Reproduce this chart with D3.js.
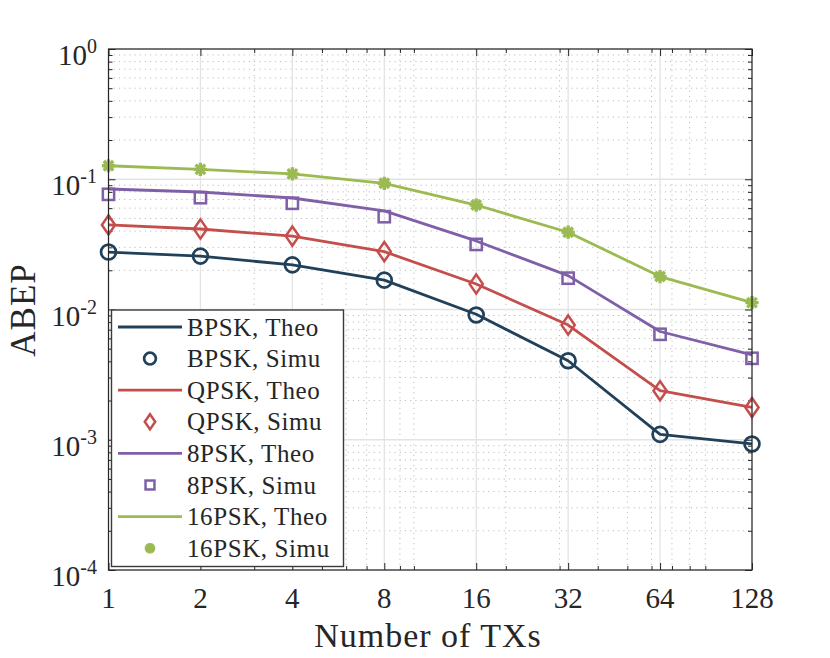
<!DOCTYPE html>
<html>
<head>
<meta charset="utf-8">
<script src="https://cdn.jsdelivr.net/npm/d3@7"></script>
<style>
  body { margin: 0; background: #fff; }
  svg { display: block; }
  text { font-family: "Liberation Serif", "DejaVu Serif", serif; fill: #262626; }
</style>
</head>
<body>
<div id="chart-area"></div>
<script>
// number of transmit antennas (x categories)
const txs = [1, 2, 4, 8, 16, 32, 64, 128];

// theoretical curves
const bpskTheo = [0.0276, 0.0257, 0.0220, 0.0168, 0.0092, 0.00404, 0.00110, 0.000928];
const qpskTheo = [0.0446, 0.0415, 0.0366, 0.0278, 0.0157, 0.0076, 0.00238, 0.00177];
const psk8Theo = [0.0842, 0.0798, 0.0718, 0.0571, 0.0336, 0.0182, 0.00678, 0.00448];
const psk16Theo = [0.127, 0.119, 0.110, 0.0931, 0.0634, 0.0392, 0.0179, 0.0113];

// simulated points
const bpskSimu = [0.0276, 0.0257, 0.0220, 0.0168, 0.00907, 0.00404, 0.00110, 0.000928];
const qpskSimu = [0.0446, 0.0415, 0.0366, 0.0278, 0.0157, 0.0076, 0.00238, 0.00177];
const psk8Simu = [0.0766, 0.0722, 0.0654, 0.0516, 0.0316, 0.0174, 0.00645, 0.00422];
const psk16Simu = [0.127, 0.119, 0.110, 0.0931, 0.0634, 0.0392, 0.0179, 0.0113];

const yTicks = [1e-4, 1e-3, 1e-2, 1e-1, 1];
const yTickExp = ["-4", "-3", "-2", "-1", "0"];

const series = [
  { name: "BPSK", color: "#21405a", marker: "circle", theo: bpskTheo, simu: bpskSimu },
  { name: "QPSK", color: "#c44e4b", marker: "diamond", theo: qpskTheo, simu: qpskSimu },
  { name: "8PSK", color: "#7f60a8", marker: "square", theo: psk8Theo, simu: psk8Simu },
  { name: "16PSK", color: "#9bbb52", marker: "star", theo: psk16Theo, simu: psk16Simu }
];

const W = 830, H = 658;
const m = { left: 108.5, right: 752, top: 49, bottom: 570 };

const svg = d3.select("#chart-area").append("svg")
  .attr("width", W)
  .attr("height", H);

const x = d3.scaleLog().base(2).domain([1, 128]).range([m.left, m.right]);
const y = d3.scaleLog().domain([1e-4, 1]).range([m.bottom, m.top]);

// minor values
const xMinor = [];
for (let k = 0; k <= 2; k++) for (let j = 2; j <= 9; j++) {
  const v = j * Math.pow(10, k);
  if (v < 128 && !txs.includes(v)) xMinor.push(v);
}
xMinor.push(10);
const yMinor = [];
for (let k = -4; k < 0; k++) for (let j = 2; j <= 9; j++) yMinor.push(j * Math.pow(10, k));

svg.append("rect")
  .attr("x", m.left).attr("y", m.top)
  .attr("width", m.right - m.left).attr("height", m.bottom - m.top)
  .attr("fill", "#fff");

// grid
const grid = svg.append("g");
grid.selectAll(".xminor").data(xMinor).enter().append("line")
  .attr("x1", d => x(d)).attr("x2", d => x(d))
  .attr("y1", m.top).attr("y2", m.bottom)
  .attr("stroke", "#bdbdbd").attr("stroke-width", 1)
  .attr("stroke-dasharray", "1.2,4");
grid.selectAll(".yminor").data(yMinor).enter().append("line")
  .attr("x1", m.left).attr("x2", m.right)
  .attr("y1", d => y(d)).attr("y2", d => y(d))
  .attr("stroke", "#bdbdbd").attr("stroke-width", 1)
  .attr("stroke-dasharray", "1.2,4");
grid.selectAll(".xmajor").data(txs).enter().append("line")
  .attr("x1", d => x(d)).attr("x2", d => x(d))
  .attr("y1", m.top).attr("y2", m.bottom)
  .attr("stroke", "#e3e3e3").attr("stroke-width", 1.3);
grid.selectAll(".ymajor").data(yTicks).enter().append("line")
  .attr("x1", m.left).attr("x2", m.right)
  .attr("y1", d => y(d)).attr("y2", d => y(d))
  .attr("stroke", "#e3e3e3").attr("stroke-width", 1.3);

// axes (ticks pointing inward)
function styleAxis(g) {
  g.selectAll(".domain").remove();
  g.selectAll("line").attr("stroke", "#262626").attr("stroke-width", 1);
  g.selectAll("text").remove();
}
svg.append("g").attr("transform", `translate(0,${m.bottom})`)
  .call(d3.axisBottom(x).tickValues(txs).tickSize(-7)).call(styleAxis);
svg.append("g").attr("transform", `translate(0,${m.bottom})`)
  .call(d3.axisBottom(x).tickValues(xMinor).tickSize(-4)).call(styleAxis);
svg.append("g").attr("transform", `translate(0,${m.top})`)
  .call(d3.axisTop(x).tickValues(txs).tickSize(-7)).call(styleAxis);
svg.append("g").attr("transform", `translate(0,${m.top})`)
  .call(d3.axisTop(x).tickValues(xMinor).tickSize(-4)).call(styleAxis);
svg.append("g").attr("transform", `translate(${m.left},0)`)
  .call(d3.axisLeft(y).tickValues(yTicks).tickSize(-7)).call(styleAxis);
svg.append("g").attr("transform", `translate(${m.left},0)`)
  .call(d3.axisLeft(y).tickValues(yMinor).tickSize(-4)).call(styleAxis);
svg.append("g").attr("transform", `translate(${m.right},0)`)
  .call(d3.axisRight(y).tickValues(yTicks).tickSize(-7)).call(styleAxis);
svg.append("g").attr("transform", `translate(${m.right},0)`)
  .call(d3.axisRight(y).tickValues(yMinor).tickSize(-4)).call(styleAxis);

// tick labels
svg.append("g").selectAll("text").data(txs).enter().append("text")
  .attr("x", d => x(d)).attr("y", 608)
  .attr("text-anchor", "middle")
  .attr("font-size", "29px")
  .text(d => d);

const yl = svg.append("g").selectAll("text").data(yTicks).enter().append("text")
  .attr("x", 97).attr("y", d => y(d) + 16)
  .attr("text-anchor", "end")
  .attr("font-size", "29px");
yl.append("tspan").text("10");
yl.append("tspan").attr("dy", -12).attr("font-size", "20px").text((d, i) => yTickExp[i]);

// axis labels
svg.append("text")
  .attr("x", 428).attr("y", 647)
  .attr("text-anchor", "middle")
  .attr("font-size", "34px")
  .attr("letter-spacing", "1px")
  .text("Number of TXs");
svg.append("text")
  .attr("transform", `translate(35,310) rotate(-90)`)
  .attr("text-anchor", "middle")
  .attr("font-size", "35px")
  .attr("letter-spacing", "1px")
  .text("ABEP");

// markers
function drawMarker(g, type, color, s) {
  if (type === "circle") {
    g.append("circle").attr("r", s * 0.62).attr("fill", "none")
      .attr("stroke", color).attr("stroke-width", 2.7);
  } else if (type === "diamond") {
    g.append("path").attr("d", `M0,${-s * 0.8}L${s * 0.55},0L0,${s * 0.8}L${-s * 0.55},0Z`)
      .attr("fill", "none").attr("stroke", color).attr("stroke-width", 2.5);
  } else if (type === "square") {
    g.append("rect").attr("x", -s * 0.47).attr("y", -s * 0.47)
      .attr("width", s * 0.94).attr("height", s * 0.94)
      .attr("fill", "none").attr("stroke", color).attr("stroke-width", 2.5);
  } else {
    const r = s * 0.55, q = r * 0.72;
    g.append("path")
      .attr("d", `M${-r},0L${r},0M0,${-r}L0,${r}M${-q},${-q}L${q},${q}M${-q},${q}L${q},${-q}`)
      .attr("fill", "none").attr("stroke", color).attr("stroke-width", 3.4);
    g.append("circle").attr("r", r * 0.6).attr("fill", color);
  }
}

const line = d3.line().x((d, i) => x(txs[i])).y(d => y(d));

series.forEach(s => {
  svg.append("path").datum(s.theo)
    .attr("d", line)
    .attr("fill", "none")
    .attr("stroke", s.color)
    .attr("stroke-width", 2.8)
    .attr("stroke-linejoin", "round");
});
series.forEach(s => {
  s.simu.forEach((v, i) => {
    const g = svg.append("g").attr("transform", `translate(${x(txs[i])},${y(v)})`);
    drawMarker(g, s.marker, s.color, 12);
  });
});

// box
svg.append("rect")
  .attr("x", m.left).attr("y", m.top)
  .attr("width", m.right - m.left).attr("height", m.bottom - m.top)
  .attr("fill", "none").attr("stroke", "#262626").attr("stroke-width", 1.2);

// legend
const lg = svg.append("g");
lg.append("rect")
  .attr("x", 111.5).attr("y", 310)
  .attr("width", 232).attr("height", 256.5)
  .attr("fill", "#fff").attr("stroke", "#3a3a3a").attr("stroke-width", 1.4);
const rowH = 31.6;
let row = 0;
series.forEach(s => {
  ["Theo", "Simu"].forEach(kind => {
    const cy = 327 + row * rowH;
    if (kind === "Theo") {
      lg.append("line").attr("x1", 118).attr("x2", 182)
        .attr("y1", cy).attr("y2", cy)
        .attr("stroke", s.color).attr("stroke-width", 2.8);
    } else {
      const g = lg.append("g").attr("transform", `translate(150,${cy})`);
      drawMarker(g, s.marker, s.color, 9.5);
    }
    lg.append("text")
      .attr("x", 187).attr("y", cy + 8.5)
      .attr("font-size", "25px")
      .attr("letter-spacing", "0.6px")
      .attr("fill", "#000")
      .text(`${s.name}, ${kind}`);
    row++;
  });
});
</script>
</body>
</html>
